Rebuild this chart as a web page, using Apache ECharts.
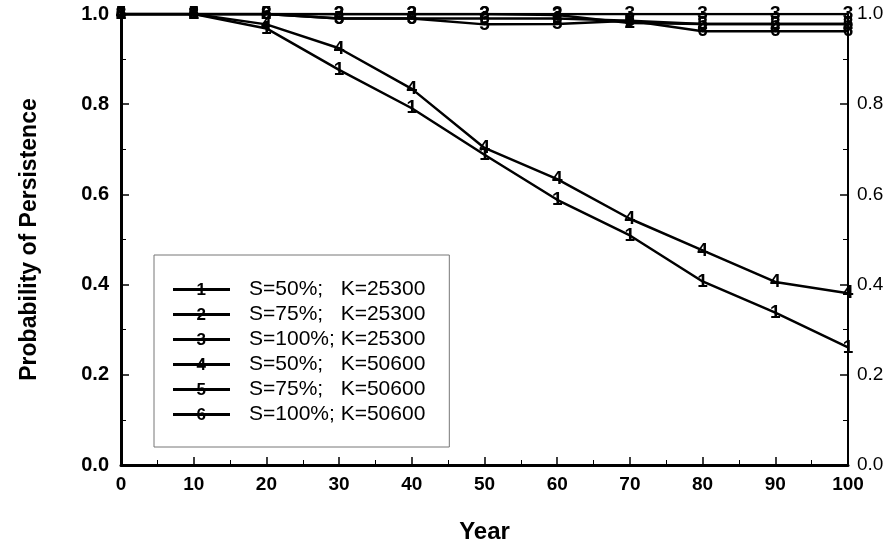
<!DOCTYPE html>
<html>
<head>
<meta charset="utf-8">
<script src="https://cdn.jsdelivr.net/npm/echarts@6/dist/echarts.min.js"></script>
<style>html,body{margin:0;padding:0;background:#fff}#c{width:889px;height:546px}</style>
</head>
<body>
<div id="c"></div>
<script>
const years = [0, 10, 20, 30, 40, 50, 60, 70, 80, 90, 100];
const seriesNames = ['S=50%;   K=25300', 'S=75%;   K=25300', 'S=100%; K=25300', 'S=50%;   K=50600', 'S=75%;   K=50600', 'S=100%; K=50600'];
const seriesDigits = ['1', '2', '3', '4', '5', '6'];
const s1 = [1, 1, 0.968, 0.876, 0.791, 0.688, 0.588, 0.509, 0.407, 0.338, 0.261];
const s2 = [1, 1, 1, 1, 1, 1, 0.998, 0.98, 0.978, 0.978, 0.978];
const s3 = [1, 1, 1, 1, 1, 1, 1, 1, 1, 1, 1];
const s4 = [1, 1, 0.977, 0.924, 0.834, 0.703, 0.634, 0.546, 0.476, 0.406, 0.381];
const s5 = [1, 1, 1, 0.99, 0.99, 0.977, 0.978, 0.985, 0.978, 0.978, 0.978];
const s6 = [1, 1, 1, 0.99, 0.99, 0.99, 0.99, 0.985, 0.962, 0.962, 0.962];
const yTicks = [0, 0.2, 0.4, 0.6, 0.8, 1.0];
const allSeries = [s1, s2, s3, s4, s5, s6];

const chart = echarts.init(document.getElementById('c'));
const FONT = 'Liberation Sans, Arial, sans-serif';

const series = allSeries.map((vals, i) => ({
  name: seriesNames[i],
  type: 'line',
  data: years.map((x, j) => [x, vals[j]]),
  symbol: 'circle',
  symbolSize: 2,
  showSymbol: true,
  lineStyle: { color: '#000', width: 2.5 },
  itemStyle: { color: '#000' },
  label: {
    show: true, position: 'inside', formatter: seriesDigits[i],
    fontFamily: FONT, fontSize: 19, fontWeight: 'bold', color: '#000'
  },
  emphasis: { disabled: true },
  z: 3 + i
}));

const legendLeft = 154, legendTop = 255, padTop = 24, padLeft = 19, rowH = 25, iconW = 57;
const graphics = seriesDigits.map((d, i) => ({
  type: 'text',
  left: legendLeft + padLeft + iconW / 2 - 5,
  top: legendTop + padTop + rowH * i + 3,
  z: 100,
  style: { text: d, fontFamily: FONT, fontSize: 17, fontWeight: 'bold', fill: '#000' }
}));

const yAxisBase = {
  type: 'value', min: 0, max: 1, interval: 0.2,
  splitLine: { show: false },
  axisTick: { show: true, inside: true, length: 8, lineStyle: { color: '#000', width: 1.5 } },
  minorTick: { show: true, splitNumber: 2, length: 5, lineStyle: { color: '#000', width: 1 } },
  minorSplitLine: { show: false }
};

chart.setOption({
  animation: false,
  backgroundColor: '#fff',
  grid: { left: 121, right: 41, top: 14, bottom: 81, containLabel: false, outerBoundsMode: 'none' },
  xAxis: {
    type: 'value', min: 0, max: 100, interval: 10,
    name: 'Year', nameLocation: 'middle', nameGap: 55,
    nameTextStyle: { fontFamily: FONT, fontSize: 24, fontWeight: 'bold', color: '#000' },
    axisLine: { show: true, lineStyle: { color: '#000', width: 3 } },
    axisTick: { show: true, inside: true, length: 8, lineStyle: { color: '#000', width: 1.5 } },
    minorTick: { show: true, splitNumber: 2, length: 5, lineStyle: { color: '#000', width: 1 } },
    splitLine: { show: false },
    axisLabel: { fontFamily: FONT, fontSize: 19, fontWeight: 'bold', color: '#000', margin: 10 }
  },
  yAxis: [
    Object.assign({}, yAxisBase, {
      position: 'left',
      name: 'Probability of Persistence', nameLocation: 'middle', nameGap: 80,
      nameTextStyle: { fontFamily: FONT, fontSize: 23, fontWeight: 'bold', color: '#000' },
      axisLine: { show: true, onZero: false, lineStyle: { color: '#000', width: 3 } },
      axisLabel: { fontFamily: FONT, fontSize: 20, fontWeight: 'bold', color: '#000', margin: 12,
        formatter: v => v.toFixed(1) }
    }),
    Object.assign({}, yAxisBase, {
      position: 'right',
      axisLine: { show: true, onZero: false, lineStyle: { color: '#000', width: 2 } },
      axisLabel: { fontFamily: FONT, fontSize: 19, color: '#000', margin: 9,
        formatter: v => v.toFixed(1) }
    })
  ],
  legend: {
    orient: 'vertical',
    left: legendLeft, top: legendTop,
    padding: [padTop, 24, 22, padLeft],
    borderColor: '#777', borderWidth: 1,
    icon: 'rect', itemWidth: iconW, itemHeight: 3, itemGap: 4,
    data: seriesNames,
    selectedMode: false,
    textStyle: { fontFamily: FONT, fontSize: 21, color: '#000', lineHeight: 21, padding: [0, 0, 0, 14] }
  },
  graphic: graphics,
  series: series
});
</script>
</body>
</html>
